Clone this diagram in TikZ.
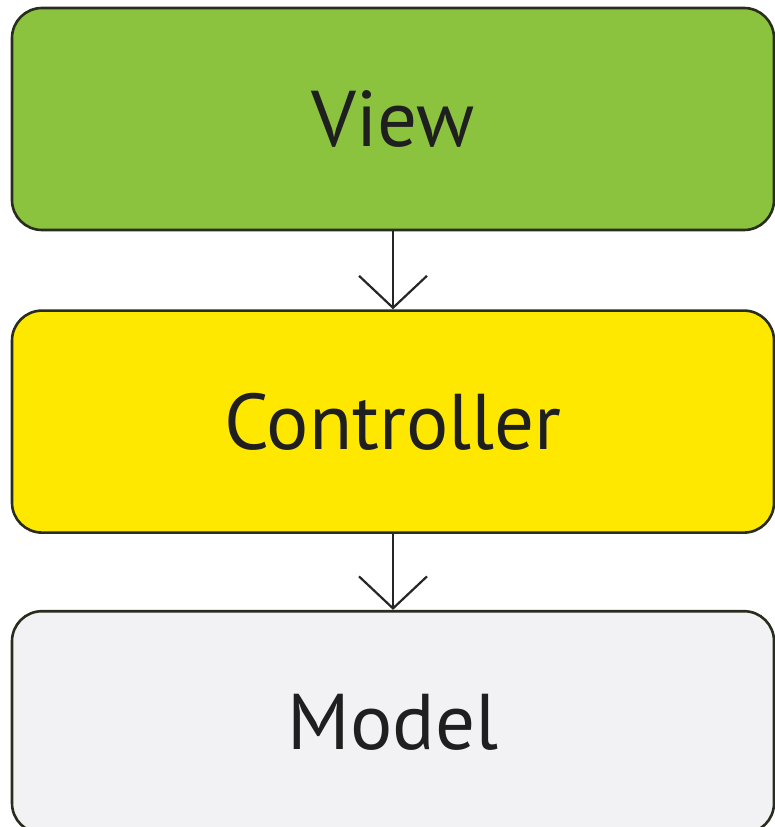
\documentclass[tikz,border=0pt]{standalone}
\usepackage{fontspec}
\setmainfont{PT Sans}
\usetikzlibrary{positioning,arrows.meta}

\definecolor{viewgreen}{RGB}{139,195,62}
\definecolor{ctrlyellow}{RGB}{255,232,0}
\definecolor{modelgrey}{RGB}{242,242,245}
\definecolor{edgedark}{RGB}{40,45,30}

\tikzset{
  layer/.style = {draw=edgedark, line width=2.6pt, rounded corners=30pt,
    minimum width=762pt, minimum height=222pt, inner sep=0pt,
    font=\fontsize{79}{92}\selectfont, text=black!88},
  flow/.style = {draw=black!85, line width=2.2pt,
    -{Straight Barb[length=32pt, width=68pt, line width=2.2pt]}}
}

\begin{document}
\begin{tikzpicture}[x=1pt, y=1pt]
        \useasboundingbox (0,0) rectangle (775,-827) ; %
        \node[layer, fill=viewgreen] (view) at (393,-119) {View} ; %
        \node[layer, fill=ctrlyellow, below = 78pt of view] (controller) {Controller} ; %
        \node[layer, fill=modelgrey, below = 76pt of controller] (model) {Model} ; %
        %
        \draw[flow] (view) -- (controller) ; %
        \draw[flow] (controller) -- (model) ; %
\end{tikzpicture}
\end{document}
